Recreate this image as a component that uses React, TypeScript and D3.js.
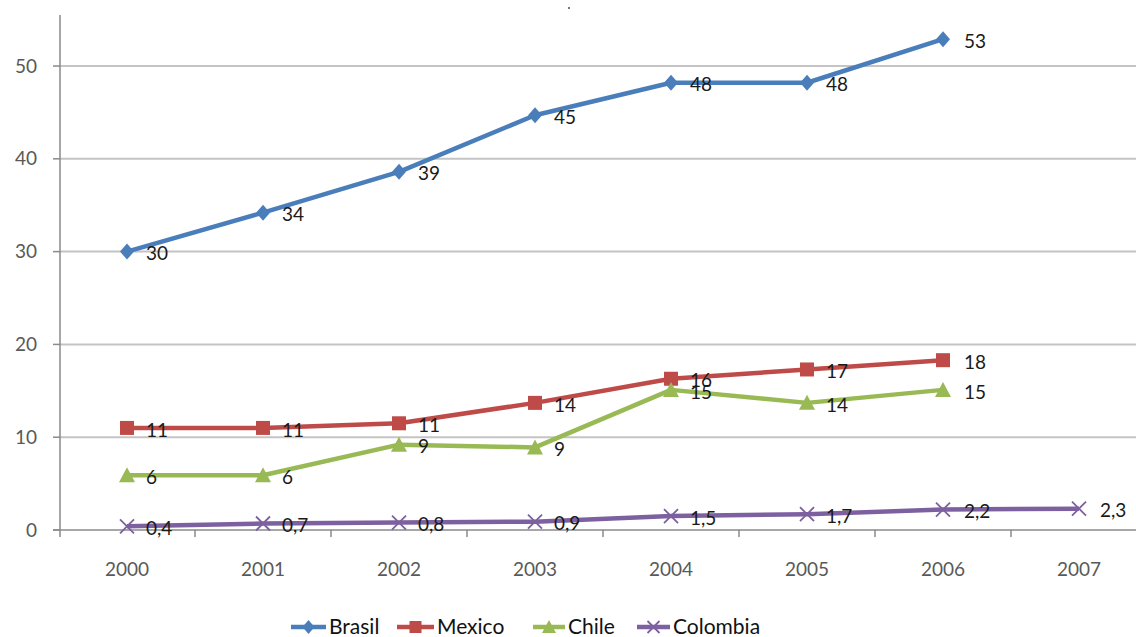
import React from "react";
import * as d3 from "d3";

const years = ["2000", "2001", "2002", "2003", "2004", "2005", "2006", "2007"];
const yTicks = [0, 10, 20, 30, 40, 50];

const brasil = [30, 34.2, 38.6, 44.7, 48.2, 48.2, 52.9];
const brasilLabels = ["30", "34", "39", "45", "48", "48", "53"];
const mexico = [11, 11, 11.5, 13.7, 16.3, 17.3, 18.3];
const mexicoLabels = ["11", "11", "11", "14", "16", "17", "18"];
const chile = [5.9, 5.9, 9.2, 8.9, 15.1, 13.7, 15.1];
const chileLabels = ["6", "6", "9", "9", "15", "14", "15"];
const colombia = [0.4, 0.7, 0.8, 0.9, 1.5, 1.7, 2.2, 2.3];
const colombiaLabels = ["0,4", "0,7", "0,8", "0,9", "1,5", "1,7", "2,2", "2,3"];

const seriesNames = ["Brasil", "Mexico", "Chile", "Colombia"];
const seriesColors = ["#4a7ebb", "#be4b48", "#98b954", "#7d60a0"];
const seriesMarkers = ["diamond", "square", "triangle", "cross"];

const W = 1136;
const H = 637;

export default function App() {
  const x = d3.scaleBand<string>().domain(years).range([59, 59 + 136 * 8]);
  const y = d3.scaleLinear().domain([0, 55.5]).range([530, 15]);
  const cx = (i: number) => (x(years[i]) as number) + x.bandwidth() / 2;

  const series = [
    { vals: brasil, labels: brasilLabels },
    { vals: mexico, labels: mexicoLabels },
    { vals: chile, labels: chileLabels },
    { vals: colombia, labels: colombiaLabels },
  ];

  const line = d3
    .line<number>()
    .x((_, i) => cx(i))
    .y((d) => y(d));

  const marker = (type: string, px: number, py: number, color: string, s = 7, key?: any) => {
    if (type === "diamond")
      return (
        <path key={key} d={`M${px},${py - s - 1}L${px + s},${py}L${px},${py + s + 1}L${px - s},${py}Z`} fill={color} />
      );
    if (type === "square")
      return <rect key={key} x={px - s} y={py - s} width={2 * s} height={2 * s} fill={color} />;
    if (type === "triangle")
      return (
        <path key={key} d={`M${px},${py - s - 1}L${px + s + 1},${py + s}L${px - s - 1},${py + s}Z`} fill={color} />
      );
    return (
      <path
        key={key}
        d={`M${px - s},${py - s}L${px + s},${py + s}M${px - s},${py + s}L${px + s},${py - s}`}
        stroke={color}
        strokeWidth={1.8}
        fill="none"
      />
    );
  };

  const legendItems = [
    { lx: 291, tx: 329 },
    { lx: 397, tx: 437 },
    { lx: 533, tx: 568 },
    { lx: 637, tx: 673 },
  ];

  return (
    <svg width={W} height={H} style={{ position: "absolute", left: 0, top: 0, background: "#fff" }} fontFamily="Lato, 'Open Sans', sans-serif">
      <rect width={W} height={H} fill="#fff" />
      {/* small mark at top */}
      <rect x={568} y={7} width={2} height={2} fill="#777" />
      {/* gridlines */}
      {yTicks.slice(1).map((t) => (
        <line key={t} x1={60} x2={W} y1={y(t)} y2={y(t)} stroke="#c4c4c4" strokeWidth={2} />
      ))}
      {/* y axis */}
      <line x1={60} x2={60} y1={y(55.5)} y2={y(0) + 7} stroke="#8a8a8a" strokeWidth={1.5} />
      {yTicks.map((t) => (
        <g key={t}>
          <line x1={53} x2={60} y1={y(t)} y2={y(t)} stroke="#8a8a8a" strokeWidth={1.5} />
          <text x={37} y={y(t)} dy="0.35em" textAnchor="end" fontSize={19} fill="#595959">
            {t}
          </text>
        </g>
      ))}
      {/* x axis */}
      <line x1={53} x2={W} y1={y(0)} y2={y(0)} stroke="#8a8a8a" strokeWidth={1.5} />
      {years.map((yr, i) =>
        i > 0 ? (
          <line key={yr} x1={x(yr) as number} x2={x(yr) as number} y1={y(0)} y2={y(0) + 7} stroke="#8a8a8a" strokeWidth={1.5} />
        ) : null
      )}
      {years.map((yr, i) => (
        <text key={yr} x={cx(i)} y={569} dy="0.35em" textAnchor="middle" fontSize={19} fill="#595959">
          {yr}
        </text>
      ))}
      {/* series */}
      {series.map((s, si) => (
        <g key={si}>
          <path d={line(s.vals) || ""} fill="none" stroke={seriesColors[si]} strokeWidth={4.5} strokeLinejoin="round" />
          {s.vals.map((v, i) => marker(seriesMarkers[si], cx(i), y(v), seriesColors[si], 7, i))}
        </g>
      ))}
      {series.map((s, si) =>
        s.vals.map((v, i) => (
          <text
            key={`${si}-${i}`}
            x={cx(i) + (i >= 6 ? 21 : 19)}
            y={y(v) + 2}
            dy="0.35em"
            fontSize={19}
            fill="#1a1a1a"
          >
            {s.labels[i]}
          </text>
        ))
      )}
      {/* legend */}
      {seriesNames.map((n, i) => (
        <g key={n}>
          <line x1={legendItems[i].lx} x2={legendItems[i].tx - 3} y1={627} y2={627} stroke={seriesColors[i]} strokeWidth={4.5} />
          {marker(seriesMarkers[i], (legendItems[i].lx + legendItems[i].tx - 3) / 2, 627, seriesColors[i], 6)}
          <text x={legendItems[i].tx} y={627} dy="0.35em" fontSize={21} fill="#111">
            {n}
          </text>
        </g>
      ))}
    </svg>
  );
}
